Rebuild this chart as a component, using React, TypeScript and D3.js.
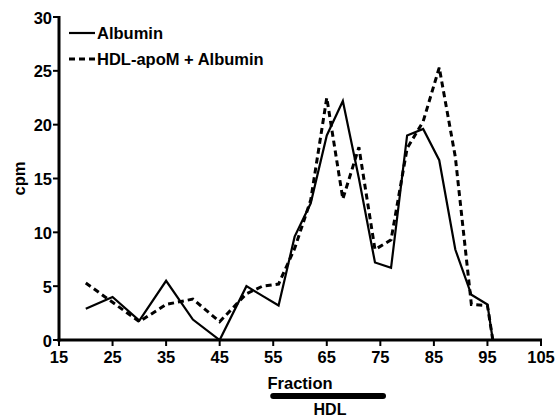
import React from "react";
import * as d3 from "d3";

// fraction numbers and cpm values
const fractions = [20, 25, 30, 35, 40, 45, 50, 53, 56, 59, 62, 65, 68, 71, 74, 77, 80, 83, 86, 89, 92, 95, 96];
const albumin = [2.9, 4.0, 1.8, 5.5, 1.9, 0, 5.0, 4.1, 3.2, 9.6, 12.7, 19.0, 22.2, 15.0, 7.2, 6.7, 19.0, 19.6, 16.7, 8.4, 4.2, 3.3, 0];
const hdlApoM = [5.3, 3.5, 1.7, 3.3, 3.8, 1.7, 4.3, 5.0, 5.2, 8.5, 13.0, 22.5, 13.1, 17.9, 8.4, 9.3, 17.8, 20.3, 25.3, 17.0, 3.3, 3.2, 0];

const xTicks = [15, 25, 35, 45, 55, 65, 75, 85, 95, 105];
const yTicks = [0, 5, 10, 15, 20, 25, 30];
const hdlRange = [55, 75.5];

const seriesNames = ["Albumin", "HDL-apoM + Albumin"];

const W = 556,
  H = 418;
const margin = { top: 17, right: 15, bottom: 78, left: 59 };
const font = "'Liberation Sans', Arial, sans-serif";

export default function App() {
  const x = d3.scaleLinear().domain([15, 105]).range([margin.left, W - margin.right]);
  const y = d3.scaleLinear().domain([0, 30]).range([H - margin.bottom, margin.top]);

  const line = d3
    .line<number>()
    .x((_, i) => x(fractions[i]))
    .y((d) => y(d));

  const x0 = x(15);
  const y0 = y(0);

  return (
    <svg
      width={W}
      height={H}
      style={{ position: "absolute", left: 0, top: 0, background: "#fff" }}
      fontFamily={font}
      fontWeight="bold"
    >
      {/* data */}
      <path d={line(albumin) || ""} fill="none" stroke="#000" strokeWidth={2.2} />
      <path d={line(hdlApoM) || ""} fill="none" stroke="#000" strokeWidth={3} strokeDasharray="6 4" />

      {/* axes */}
      <line x1={x0} x2={x0} y1={y(30) - 1} y2={y0 + 1.5} stroke="#000" strokeWidth={3} />
      <line x1={x0 - 1.5} x2={x(105) + 1} y1={y0} y2={y0} stroke="#000" strokeWidth={3} />
      {yTicks.map((t) => (
        <g key={"y" + t}>
          <line x1={x0 - 6} x2={x0} y1={y(t)} y2={y(t)} stroke="#000" strokeWidth={2} />
          <text x={x0 - 7} y={y(t)} dy="0.4em" textAnchor="end" fontSize={16.5}>
            {t}
          </text>
        </g>
      ))}
      {xTicks.map((t) => (
        <g key={"x" + t}>
          <line x1={x(t)} x2={x(t)} y1={y0} y2={y0 + 6} stroke="#000" strokeWidth={2} />
          <text x={x(t)} y={y0 + 23} textAnchor="middle" fontSize={16.5}>
            {t}
          </text>
        </g>
      ))}

      {/* axis titles */}
      <text transform={`translate(25, ${y(15)}) rotate(-90)`} textAnchor="middle" fontSize={16.5}>
        cpm
      </text>
      <text x={300} y={389} textAnchor="middle" fontSize={16.5}>
        Fraction
      </text>

      {/* HDL bar */}
      <line
        x1={x(hdlRange[0])}
        x2={x(hdlRange[1])}
        y1={396}
        y2={396}
        stroke="#000"
        strokeWidth={6}
        strokeLinecap="round"
      />
      <text x={330} y={415} textAnchor="middle" fontSize={16}>
        HDL
      </text>

      {/* legend */}
      <line x1={69} x2={95} y1={33} y2={33} stroke="#000" strokeWidth={2.2} />
      <text x={97} y={33} dy="0.38em" fontSize={16.5}>
        {seriesNames[0]}
      </text>
      <line x1={69} x2={95} y1={59} y2={59} stroke="#000" strokeWidth={3} strokeDasharray="6 4" />
      <text x={97} y={59} dy="0.38em" fontSize={16.5}>
        {seriesNames[1]}
      </text>
    </svg>
  );
}
